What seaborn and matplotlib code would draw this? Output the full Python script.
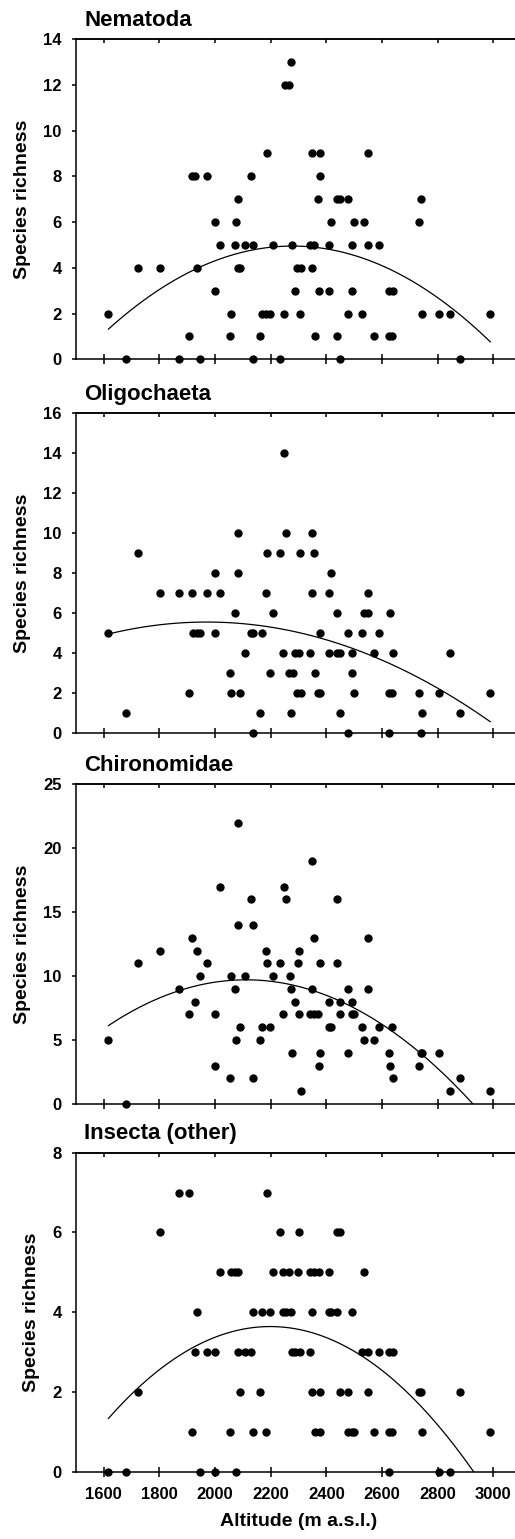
import numpy as np
import pandas as pd
import matplotlib
matplotlib.use("Agg")
import matplotlib.pyplot as plt
import seaborn as sns

### ---------------------------------------------------------------- ###
### Data (altitude in m a.s.l., species richness)

nem_alt = [1616, 1679, 1723, 1801, 1872, 1905, 1916, 1928, 1934, 1947,
           1971, 1998, 2001, 2018, 2053, 2057, 2073, 2075, 2081, 2082,
           2090, 2108, 2129, 2137, 2138, 2162, 2167, 2183, 2197, 2185,
           2208, 2233, 2248, 2251, 2266, 2274, 2278, 2289, 2295, 2308,
           2305, 2349, 2349, 2343, 2355, 2358, 2369, 2374, 2376, 2376,
           2409, 2410, 2417, 2438, 2438, 2451, 2448, 2479, 2479, 2492,
           2492, 2501, 2529, 2536, 2549, 2549, 2571, 2590, 2625, 2641,
           2627, 2636, 2734, 2740, 2745, 2805, 2845, 2881, 2990]
nem_rich = [2, 0, 4, 4, 0, 1, 8, 8, 4, 0,
            8, 3, 6, 5, 1, 2, 5, 6, 7, 4,
            4, 5, 8, 5, 0, 1, 2, 2, 2, 9,
            5, 0, 2, 12, 12, 13, 5, 3, 4, 4,
            2, 9, 4, 5, 5, 1, 7, 3, 9, 8,
            3, 5, 6, 1, 7, 7, 0, 7, 2, 3,
            5, 6, 2, 6, 9, 5, 1, 5, 3, 3,
            1, 1, 6, 7, 2, 2, 2, 0, 2]

oli_alt = [1616, 1679, 1723, 1801, 1872, 1905, 1916, 1922, 1934, 1947,
           1971, 1998, 2001, 2018, 2053, 2057, 2073, 2081, 2082, 2090,
           2108, 2129, 2138, 2138, 2162, 2167, 2183, 2185, 2197, 2208,
           2233, 2245, 2248, 2254, 2266, 2280, 2274, 2287, 2303, 2295,
           2308, 2305, 2343, 2349, 2349, 2355, 2358, 2369, 2376, 2376,
           2409, 2410, 2417, 2438, 2439, 2451, 2448, 2479, 2479, 2492,
           2492, 2501, 2529, 2536, 2549, 2549, 2571, 2590, 2625, 2636,
           2627, 2630, 2641, 2734, 2740, 2745, 2805, 2845, 2881, 2990]
oli_rich = [5, 1, 9, 7, 7, 2, 7, 5, 5, 5,
            7, 8, 5, 7, 3, 2, 6, 10, 8, 2,
            4, 5, 5, 0, 1, 5, 7, 9, 3, 6,
            9, 4, 14, 10, 3, 3, 1, 4, 4, 2,
            2, 9, 4, 10, 7, 9, 3, 2, 2, 5,
            4, 7, 8, 6, 4, 4, 1, 5, 0, 4,
            3, 2, 5, 6, 6, 7, 4, 5, 2, 2,
            0, 6, 4, 2, 0, 1, 2, 4, 1, 2]

chi_alt = [1616, 1679, 1723, 1801, 1872, 1905, 1916, 1927, 1934, 1947,
           1971, 1998, 2001, 2018, 2053, 2057, 2073, 2075, 2081, 2081,
           2090, 2108, 2129, 2138, 2138, 2162, 2167, 2183, 2185, 2197,
           2208, 2233, 2245, 2248, 2254, 2268, 2274, 2278, 2287, 2298,
           2303, 2303, 2308, 2349, 2349, 2343, 2355, 2369, 2355, 2374,
           2376, 2376, 2409, 2409, 2417, 2438, 2438, 2448, 2451, 2479,
           2479, 2492, 2492, 2501, 2529, 2536, 2549, 2549, 2571, 2590,
           2625, 2630, 2636, 2641, 2734, 2740, 2745, 2805, 2845, 2881,
           2990]
chi_rich = [5, 0, 11, 12, 9, 7, 13, 8, 12, 10,
            11, 7, 3, 17, 2, 10, 9, 5, 22, 14,
            6, 10, 16, 14, 2, 5, 6, 12, 11, 6,
            10, 11, 7, 17, 16, 10, 9, 4, 8, 11,
            12, 7, 1, 19, 9, 7, 7, 7, 13, 3,
            11, 4, 8, 6, 6, 16, 11, 8, 7, 9,
            4, 8, 7, 7, 6, 5, 13, 9, 5, 6,
            4, 3, 6, 2, 3, 4, 4, 4, 1, 2,
            1]

ins_alt = [1616, 1679, 1723, 1801, 1872, 1905, 1916, 1927, 1934, 1947,
           1971, 1998, 2001, 2018, 2053, 2057, 2071, 2081, 2075, 2081,
           2090, 2108, 2129, 2138, 2167, 2197, 2138, 2162, 2183, 2185,
           2208, 2233, 2245, 2266, 2245, 2254, 2274, 2278, 2289, 2305,
           2298, 2303, 2343, 2343, 2355, 2374, 2349, 2349, 2376, 2358,
           2376, 2409, 2409, 2417, 2438, 2438, 2451, 2448, 2479, 2479,
           2492, 2501, 2492, 2529, 2549, 2536, 2549, 2571, 2590, 2625,
           2641, 2625, 2636, 2627, 2734, 2740, 2745, 2805, 2845, 2881,
           2990]
ins_rich = [0, 0, 2, 6, 7, 7, 1, 3, 4, 0,
            3, 3, 0, 5, 1, 5, 5, 5, 0, 3,
            2, 3, 3, 4, 4, 4, 1, 2, 1, 7,
            5, 6, 5, 5, 4, 4, 4, 3, 3, 3,
            5, 6, 3, 5, 5, 5, 4, 2, 2, 1,
            1, 5, 4, 4, 4, 6, 6, 2, 2, 1,
            1, 1, 4, 3, 3, 5, 2, 1, 3, 3,
            3, 1, 1, 0, 2, 2, 1, 0, 0, 2,
            1]

titles = ["Nematoda", "Oligochaeta", "Chironomidae", "Insecta (other)"]
ytops = [14, 16, 25, 8]
ysteps = [2, 2, 5, 2]
xticks = [1600, 1800, 2000, 2200, 2400, 2600, 2800, 3000]

panels = [(nem_alt, nem_rich), (oli_alt, oli_rich),
          (chi_alt, chi_rich), (ins_alt, ins_rich)]

### ---------------------------------------------------------------- ###
### Style

sns.set_style("ticks")
plt.rcParams['font.family'] = ['Liberation Sans', 'DejaVu Sans']
plt.rcParams['font.weight'] = 'bold'
plt.rcParams['axes.labelweight'] = 'bold'
plt.rcParams['axes.linewidth'] = 1.1
# plain black everywhere (seaborn defaults to dark grey)
for key in ['text.color', 'axes.labelcolor', 'axes.edgecolor',
            'xtick.color', 'ytick.color']:
    plt.rcParams[key] = 'black'

fig = plt.figure(figsize=(5.15, 15.39), dpi=100)

# axes boxes in pixels (top, bottom) of the 515x1539 canvas
boxes = [(39, 359.3), (413.3, 732.7), (784.3, 1104), (1152.7, 1471.7)]
left_px, width_px = 76, 445

for i, (alt, rich) in enumerate(panels):
    top, bot = boxes[i]
    ax = fig.add_axes([left_px / 515, 1 - bot / 1539,
                       width_px / 515, (bot - top) / 1539])
    df = pd.DataFrame({"Altitude": alt, "Richness": rich})

    # quadratic fit (as in the original figure)
    sns.regplot(data=df, x="Altitude", y="Richness", order=2, ci=None,
                scatter=False, color="black", ax=ax,
                line_kws={"linewidth": 0.9})
    sns.scatterplot(data=df, x="Altitude", y="Richness", color="black",
                    s=36, linewidth=0, ax=ax, clip_on=False, zorder=5)

    ax.set_xlim(1500, 3100)
    ax.set_ylim(0, ytops[i])
    ax.set_yticks(np.arange(0, ytops[i] + 1, ysteps[i]))
    ax.set_xticks(xticks)
    ax.spines['right'].set_visible(False)

    ax.tick_params(axis='y', direction='out', length=3.2, width=1.1,
                   labelsize=12, pad=7)
    ax.tick_params(axis='x', direction='inout', length=6.5, width=1.1,
                   labelsize=12, pad=8)
    # inward ticks on the top spine
    top_ax = ax.secondary_xaxis('top')
    top_ax.set_xticks(xticks)
    top_ax.tick_params(direction='in', length=3, width=1.1,
                       labeltop=False)

    ax.set_ylabel("Species richness", fontsize=14, labelpad=9)
    if i < 3:
        ax.set_xlabel("")
        ax.tick_params(axis='x', labelbottom=False)
    else:
        ax.set_xlabel("Altitude (m a.s.l.)", fontsize=14, labelpad=8)

    ax.text(0.018, 1.042, titles[i], transform=ax.transAxes,
            fontsize=16, fontweight='bold', ha='left', va='baseline')

fig.savefig("out.png", dpi=100)
